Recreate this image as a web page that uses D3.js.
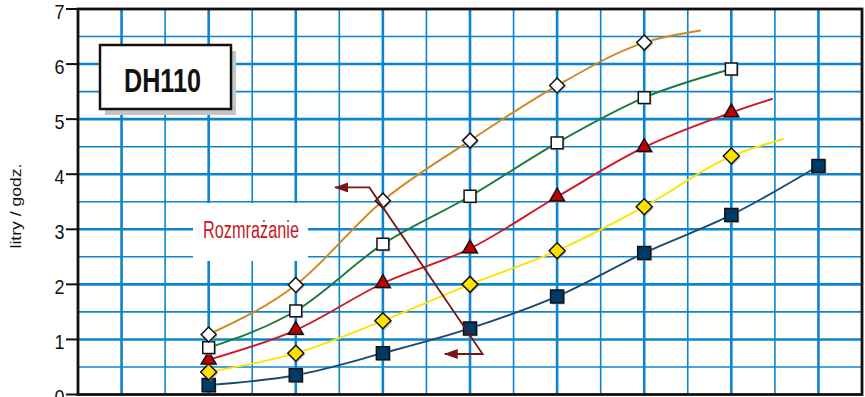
<!DOCTYPE html>
<html>
<head>
<meta charset="utf-8">
<script src="https://cdn.jsdelivr.net/npm/d3@7"></script>
<style>
  body { margin: 0; background: #fff; }
  svg { display: block; font-family: "Liberation Sans", Arial, sans-serif; }
</style>
</head>
<body>
<div id="chart"></div>
<script>
// grid columns where the measurements sit (x axis has no visible labels)
var xCols = [3, 5, 7, 9, 11, 13, 15, 17];

var seriesNavy   = [0.17, 0.35, 0.75, 1.20, 1.78, 2.57, 3.26, 4.15];
var seriesYellow = [0.41, 0.75, 1.34, 2.00, 2.61, 3.41, 4.33];
var seriesRed    = [0.63, 1.17, 2.02, 2.65, 3.59, 4.49, 5.12];
var seriesGreen  = [0.85, 1.52, 2.73, 3.60, 4.57, 5.39, 5.91];
var seriesOrange = [1.09, 1.99, 3.52, 4.61, 5.61, 6.39];

// curve ends that run past the last marker  [column, value]
var tailOrange = [14.3, 6.61];
var tailRed    = [15.95, 5.37];
var tailYellow = [16.2, 4.64];

var yTicks = [0, 1, 2, 3, 4, 5, 6, 7];

// defrost annotation polyline, in column / value units
var defrostArrow = [[5.90, 3.76], [6.69, 3.76], [9.29, 0.735], [8.42, 0.735]];

(function() {
    'use strict';

    var width = 865,
        height = 397;

    var x = d3.scaleLinear().domain([0, 18]).range([78, 862]);
    var y = d3.scaleLinear().domain([0, 7]).range([394.5, 9]);

    var gridColor = "#0b84cf";

    var svg = d3.select("#chart").append("svg")
        .attr("width", width)
        .attr("height", height);

    var defs = svg.append("defs");
    defs.append("marker")
        .attr("id", "arrowHead")
        .attr("markerUnits", "userSpaceOnUse")
        .attr("viewBox", "0 0 14 10")
        .attr("refX", 13)
        .attr("refY", 5)
        .attr("markerWidth", 14)
        .attr("markerHeight", 10)
        .attr("orient", "auto-start-reverse")
      .append("path")
        .attr("d", "M0,0L14,5L0,10Z")
        .attr("fill", "#7a1414");

    // plot background
    svg.append("rect")
        .attr("x", x(0)).attr("y", y(7))
        .attr("width", x(18) - x(0)).attr("height", y(0) - y(7))
        .attr("fill", "#fff");

    // grid
    var grid = svg.append("g");
    grid.selectAll(".vgrid")
        .data(d3.range(1, 18))
      .enter().append("line")
        .attr("x1", function(d) { return x(d); })
        .attr("x2", function(d) { return x(d); })
        .attr("y1", y(7))
        .attr("y2", y(0))
        .attr("stroke", gridColor)
        .attr("stroke-width", function(d) { return d % 2 ? 2.6 : 1.6; });

    grid.selectAll(".hgrid")
        .data(d3.range(1, 14).map(function(d) { return d / 2; }))
      .enter().append("line")
        .attr("x1", x(0))
        .attr("x2", x(18))
        .attr("y1", function(d) { return y(d); })
        .attr("y2", function(d) { return y(d); })
        .attr("stroke", gridColor)
        .attr("stroke-width", function(d) { return d % 1 === 0 ? 2.6 : 1.6; });

    // white box behind the defrost label
    svg.append("rect")
        .attr("x", 193).attr("y", 203)
        .attr("width", 115).attr("height", 58)
        .attr("fill", "#fff");

    svg.append("text")
        .attr("x", 203)
        .attr("y", 237.7)
        .attr("font-size", "23px")
        .attr("fill", "#c41a24")
        .attr("textLength", 96)
        .attr("lengthAdjust", "spacingAndGlyphs")
        .text("Rozmrażanie");

    // series
    var series = [
        { values: seriesNavy,   tail: null,       line: "#1b4a6f", fill: "#003a66", shape: d3.symbolSquare,  size: 170 },
        { values: seriesYellow, tail: tailYellow, line: "#ffe200", fill: "#ffe000", shape: "diamond",        size: 8 },
        { values: seriesRed,    tail: tailRed,    line: "#d0161e", fill: "#c00000", shape: d3.symbolTriangle, size: 95 },
        { values: seriesGreen,  tail: null,       line: "#1c7a3c", fill: "#fff",    shape: d3.symbolSquare,  size: 140 },
        { values: seriesOrange, tail: tailOrange, line: "#d4861e", fill: "#fff",    shape: "diamond",        size: 7.5 }
    ];

    var line = d3.line()
        .x(function(d) { return x(d[0]); })
        .y(function(d) { return y(d[1]); })
        .curve(d3.curveMonotoneX);

    function shapePath(s) {
        if (s.shape === "diamond") {
            var r = s.size;
            return "M0," + (-r) + "L" + r + ",0L0," + r + "L" + (-r) + ",0Z";
        }
        return d3.symbol().type(s.shape).size(s.size)();
    }

    series.forEach(function(s) {
        var pts = s.values.map(function(v, i) { return [xCols[i], v]; });
        var linePts = s.tail ? pts.concat([s.tail]) : pts;

        svg.append("path")
            .datum(linePts)
            .attr("d", line)
            .attr("fill", "none")
            .attr("stroke", s.line)
            .attr("stroke-width", 1.9);

        var g = svg.append("g");
        // soft shadow under each marker
        g.selectAll(".shadow")
            .data(pts)
          .enter().append("path")
            .attr("transform", function(d) { return "translate(" + (x(d[0]) + 1.5) + "," + (y(d[1]) + 1.5) + ")"; })
            .attr("d", shapePath(s))
            .attr("fill", "#9a9a9a")
            .attr("opacity", 0.55);

        g.selectAll(".marker")
            .data(pts)
          .enter().append("path")
            .attr("transform", function(d) { return "translate(" + x(d[0]) + "," + y(d[1]) + ")"; })
            .attr("d", shapePath(s))
            .attr("fill", s.fill)
            .attr("stroke", "#111")
            .attr("stroke-width", 1.5);
    });

    // defrost arrow
    svg.append("path")
        .datum(defrostArrow)
        .attr("d", d3.line()
            .x(function(d) { return x(d[0]); })
            .y(function(d) { return y(d[1]); }))
        .attr("fill", "none")
        .attr("stroke", "#7a1414")
        .attr("stroke-width", 1.8)
        .attr("marker-start", "url(#arrowHead)")
        .attr("marker-end", "url(#arrowHead)");

    // model box
    svg.append("rect")
        .attr("x", 105).attr("y", 51)
        .attr("width", 131).attr("height", 64)
        .attr("fill", "#c4c4c4");
    svg.append("rect")
        .attr("x", 100).attr("y", 45)
        .attr("width", 131).attr("height", 64)
        .attr("fill", "#fff")
        .attr("stroke", "#111")
        .attr("stroke-width", 2.5);
    svg.append("text")
        .attr("x", 124)
        .attr("y", 92)
        .attr("font-size", "33px")
        .attr("font-weight", "bold")
        .attr("fill", "#111")
        .attr("textLength", 77)
        .attr("lengthAdjust", "spacingAndGlyphs")
        .text("DH110");

    // frame
    svg.append("rect")
        .attr("x", x(0)).attr("y", y(7))
        .attr("width", x(18) - x(0)).attr("height", y(0) - y(7))
        .attr("fill", "none")
        .attr("stroke", "#111")
        .attr("stroke-width", 2.8);

    // y axis ticks and labels
    var yAxis = svg.append("g");
    yAxis.selectAll("line")
        .data(yTicks)
      .enter().append("line")
        .attr("x1", x(0) - 12)
        .attr("x2", x(0))
        .attr("y1", function(d) { return y(d); })
        .attr("y2", function(d) { return y(d); })
        .attr("stroke", "#111")
        .attr("stroke-width", 2);

    yAxis.selectAll("text")
        .data(yTicks)
      .enter().append("text")
        .attr("x", 59.5)
        .attr("y", function(d) { return y(d); })
        .attr("dy", "0.47em")
        .attr("text-anchor", "middle")
        .attr("font-size", "21px")
        .attr("fill", "#111")
        .attr("textLength", 10)
        .attr("lengthAdjust", "spacingAndGlyphs")
        .text(function(d) { return d; });

    svg.append("text")
        .attr("transform", "translate(21,206) rotate(-90)")
        .attr("text-anchor", "middle")
        .attr("font-size", "15px")
        .attr("fill", "#111")
        .attr("textLength", 85)
        .attr("lengthAdjust", "spacingAndGlyphs")
        .text("litry / godz.");
})();
</script>
</body>
</html>
